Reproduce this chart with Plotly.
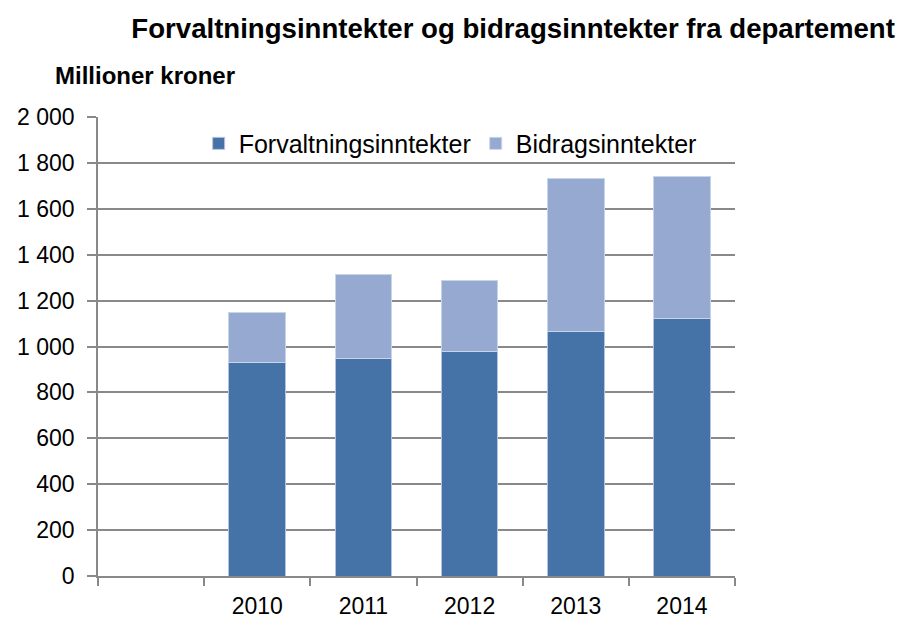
import plotly.graph_objects as go

categories = [" ", "2010", "2011", "2012", "2013", "2014"]
forvaltning = [None, 930, 949, 978, 1064, 1121]
bidrag = [None, 219, 364, 310, 670, 618]
y_ticks = [0, 200, 400, 600, 800, 1000, 1200, 1400, 1600, 1800, 2000]
y_tick_labels = ["0", "200", "400", "600", "800", "1 000", "1 200", "1 400", "1 600", "1 800", "2 000"]

FONT = "Liberation Sans"
dark = "#4572A7"
light = "#95A9D1"

fig = go.Figure()
fig.add_trace(go.Bar(x=categories, y=forvaltning, name="Forvaltningsinntekter",
                     marker=dict(color=dark, line=dict(color="#B4C4E0", width=1))))
fig.add_trace(go.Bar(x=categories, y=bidrag, name="Bidragsinntekter",
                     marker=dict(color=light, line=dict(color="#C8D4EA", width=1))))

# page body has an 8px margin, so the figure is 898x613 placed at (8,8)
fig.update_layout(
    width=898, height=613,
    barmode="stack", bargap=0.465,
    paper_bgcolor="white", plot_bgcolor="white",
    margin=dict(l=90, r=171, t=109, b=45, autoexpand=False),
    font=dict(family=FONT, size=23, color="black"),
    showlegend=True,
    legend=dict(orientation="h", x=0.158, y=0.942, xanchor="left", yanchor="middle",
                font=dict(family=FONT, size=25), bgcolor="rgba(0,0,0,0)",
                traceorder="normal", itemwidth=30),
    title=dict(text="<b>Forvaltningsinntekter og bidragsinntekter fra departement</b>",
               x=0.5625, xanchor="center", y=0.967, yanchor="middle",
               font=dict(family=FONT, size=27.6, color="black")),
    annotations=[dict(text="<b>Millioner kroner</b>", xref="paper", yref="paper",
                      x=-0.071, y=1.0904, xanchor="left", yanchor="middle",
                      showarrow=False, font=dict(family=FONT, size=24, color="black"))],
)

fig.update_xaxes(type="category", categoryorder="array", categoryarray=categories,
                 range=[-0.5, 5.5], showline=True, linecolor="#898989", linewidth=1.5,
                 ticks="outside", tickson="boundaries", ticklen=8, tickcolor="#898989",
                 tickwidth=1.5, showgrid=False, ticklabelstandoff=9, automargin=False,
                 tickfont=dict(family=FONT, size=23))
fig.update_yaxes(range=[0, 2000], tickvals=y_ticks, ticktext=y_tick_labels,
                 showline=True, linecolor="#898989", linewidth=1.5,
                 ticks="outside", ticklen=9, tickcolor="#898989", tickwidth=1.5,
                 showgrid=True, gridcolor="#898989", gridwidth=1.5, zeroline=False,
                 ticklabelstandoff=8, automargin=False, tickfont=dict(family=FONT, size=23))

fig.write_html("out.html")
